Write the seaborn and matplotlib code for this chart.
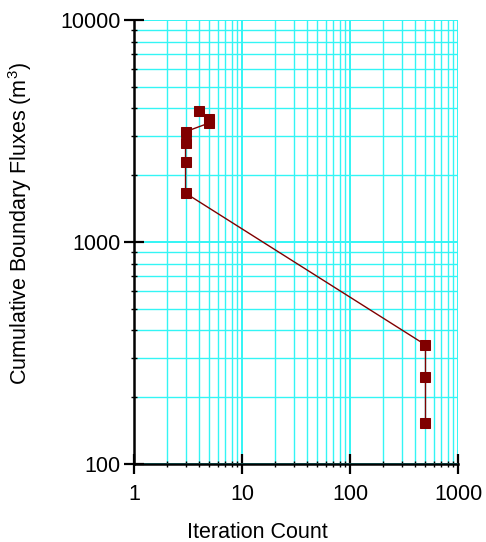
import matplotlib
matplotlib.use("Agg")
import matplotlib.pyplot as plt
import matplotlib.ticker as mticker
import pandas as pd
import seaborn as sns

# Points in the order they are connected
iterations = [4, 5, 5, 3, 3, 3, 3, 500, 500, 500]
fluxes = [3900, 3580, 3440, 3140, 2790, 2300, 1660, 344, 246, 153]

x_ticks = [1, 10, 100, 1000]
y_ticks = [100, 1000, 10000]

sns.set_style("white")
plt.rcParams['font.family'] = ['Liberation Sans', 'DejaVu Sans']
plt.rcParams['mathtext.fontset'] = 'custom'
plt.rcParams['mathtext.rm'] = 'Liberation Sans'
plt.rcParams['text.color'] = 'black'
plt.rcParams['axes.labelcolor'] = 'black'
plt.rcParams['xtick.color'] = 'black'
plt.rcParams['ytick.color'] = 'black'

df = pd.DataFrame({"iteration": iterations, "flux": fluxes})

fig = plt.figure(figsize=(4.86, 5.42), dpi=100)
ax = fig.add_axes([134 / 486, 1 - 464 / 542, 324 / 486, 444 / 542])

ax.set_xscale("log")
ax.set_yscale("log")
ax.set_xlim(1, 1000)
ax.set_ylim(100, 10000)

# Grid first so the data sits on top
ax.grid(True, which="major", color="#33f5f5", linewidth=1.4)
ax.grid(True, which="minor", color="#33f5f5", linewidth=1.0)
ax.set_axisbelow(True)

sns.lineplot(data=df, x="iteration", y="flux", sort=False, estimator=None,
             color="#800000", linewidth=1.0, marker="s", markersize=6.8,
             markerfacecolor="#800000", markeredgecolor="#800000", ax=ax)

ax.xaxis.set_major_locator(mticker.FixedLocator(x_ticks))
ax.xaxis.set_major_formatter(mticker.FixedFormatter([str(v) for v in x_ticks]))
ax.yaxis.set_major_locator(mticker.FixedLocator(y_ticks))
ax.yaxis.set_major_formatter(mticker.FixedFormatter([str(v) for v in y_ticks]))
ax.xaxis.set_minor_locator(mticker.LogLocator(base=10, subs=range(2, 10)))
ax.yaxis.set_minor_locator(mticker.LogLocator(base=10, subs=range(2, 10)))
ax.xaxis.set_minor_formatter(mticker.NullFormatter())
ax.yaxis.set_minor_formatter(mticker.NullFormatter())

ax.tick_params(which="major", direction="inout", length=15, width=1.6,
               color="black", labelcolor="black", labelsize=15.5, pad=2)
ax.tick_params(axis="x", which="major", pad=7)
ax.tick_params(which="minor", direction="inout", length=4.5, width=1.0, color="black")
ax.tick_params(bottom=True, left=True, which="both")

for side in ["top", "right"]:
    ax.spines[side].set_visible(False)
for side in ["left", "bottom"]:
    ax.spines[side].set_color("black")
    ax.spines[side].set_linewidth(1.8)

ax.set_xlabel("Iteration Count", fontsize=15.5, color="black")
ax.set_ylabel("Cumulative Boundary Fluxes (m$^3$)", fontsize=15.5, color="black")
ax.xaxis.set_label_coords(0.38, -0.131)
ax.yaxis.set_label_coords(-0.310, 0.542)

fig.savefig("out.png", dpi=100)
